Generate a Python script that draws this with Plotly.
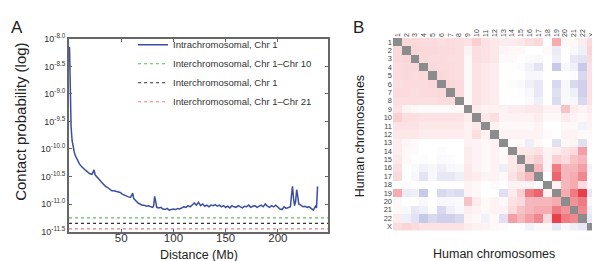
import plotly.graph_objects as go

# ---------------- Panel A data ----------------
distance_mb = [0.5, 1, 1.5, 2, 3, 4, 5, 6, 8, 10, 12, 14, 16, 18, 20, 22, 23, 24, 25, 27,
               29, 31, 33, 35, 37, 39, 41, 43, 45, 47, 49, 51, 53, 55, 57, 59, 60, 61, 62, 64,
               66, 68, 70, 72, 74, 76, 78, 80, 81, 82, 83, 84, 86, 88, 90, 92, 94, 96, 98, 100,
               102, 104, 106, 108, 110, 112, 114, 116, 118, 120, 122, 124, 126, 128, 130, 132, 134, 136, 138, 140,
               142, 144, 146, 148, 150, 152, 154, 156, 158, 160, 162, 164, 166, 168, 170, 172, 174, 176, 178, 180,
               182, 184, 186, 188, 190, 192, 194, 196, 198, 200, 202, 204, 206, 208, 210, 212, 213, 214, 215, 216,
               217, 218, 219, 220, 222, 224, 226, 228, 230, 232, 234, 236, 237, 238]
intra_log10 = [-8.15, -8.9, -9.35, -9.6, -9.85, -9.98, -10.05, -10.12, -10.2, -10.27, -10.32, -10.36, -10.39, -10.42, -10.45, -10.46, -10.40, -10.38, -10.47, -10.52,
               -10.56, -10.6, -10.64, -10.68, -10.7, -10.73, -10.76, -10.76, -10.77, -10.78, -10.79, -10.82, -10.84, -10.85, -10.87, -10.88, -10.84, -10.80, -10.9, -10.95,
               -10.98, -11.0, -11.02, -11.02, -11.04, -11.03, -11.05, -11.06, -11.04, -10.86, -10.95, -11.06, -11.07, -11.06, -11.09, -11.1, -11.08, -11.11, -11.1, -11.09,
               -11.1, -11.08, -11.09, -11.07, -11.05, -11.06, -11.03, -11.05, -11.02, -10.98, -11.02, -10.97, -11.03, -11.0, -11.04, -11.02, -11.05, -11.02, -11.03, -11.01,
               -11.04, -11.02, -11.05, -11.03, -11.06, -11.04, -11.07, -11.03, -11.05, -11.06, -11.03, -11.05, -11.07, -11.04, -11.05, -11.02, -11.06, -11.04, -11.03, -11.06,
               -11.04, -11.02, -11.05, -11.0, -11.04, -11.06, -11.03, -11.05, -11.02, -11.06, -11.09, -11.1, -11.05, -11.08, -11.06, -11.05, -10.85, -10.68, -10.9, -11.03,
               -10.95, -10.74, -10.85, -11.0, -11.02, -11.05, -11.04, -11.06, -11.05, -11.08, -11.11, -11.04, -11.07, -10.68]
intra_label = "Intrachromosomal, Chr 1"
inter_labels = ["Interchromosomal, Chr 1\u2013Chr 10", "Interchromosomal, Chr 1", "Interchromosomal, Chr 1\u2013Chr 21"]
inter_log10 = [-11.25, -11.35, -11.45]
inter_colors = ["#62b862", "#333333", "#e98080"]
x_limits = [0, 248]
y_tick_exponents = [-8.0, -8.5, -9.0, -9.5, -10.0, -10.5, -11.0, -11.5]
x_tick_values = [50, 100, 150, 200]

# ---------------- Panel B data ----------------
chromosomes = [str(i) for i in range(1, 23)] + ["X"]
# upper triangle: row i holds values for columns i+1 .. X
upper_rows = [
    [0.16, 0.16, 0.15, 0.15, 0.14, 0.15, 0.14, 0.12, 0.20, 0.12, 0.10, 0.08, 0.08, 0.10, 0.14, 0.16, 0.00, 0.35, 0.03, 0.03, 0.08, 0.15],
    [0.17, 0.16, 0.16, 0.15, 0.15, 0.14, 0.05, 0.14, 0.12, 0.10, 0.04, 0.03, 0.03, 0.00, 0.00, 0.02, -0.12, 0.00, -0.05, -0.10, 0.18],
    [0.16, 0.15, 0.15, 0.14, 0.14, 0.03, 0.13, 0.12, 0.10, 0.02, 0.02, 0.00, -0.03, -0.05, 0.00, -0.10, 0.00, -0.15, -0.18, 0.15],
    [0.16, 0.15, 0.15, 0.14, 0.02, 0.12, 0.10, 0.08, 0.00, 0.00, -0.02, -0.08, -0.18, 0.00, -0.35, -0.05, -0.10, -0.35, 0.12],
    [0.16, 0.15, 0.14, 0.02, 0.12, 0.10, 0.08, 0.00, 0.00, 0.00, -0.05, -0.05, 0.00, 0.00, 0.00, -0.02, -0.25, 0.12],
    [0.16, 0.15, 0.02, 0.12, 0.10, 0.08, 0.00, -0.02, -0.03, -0.10, -0.15, 0.00, -0.25, -0.05, -0.25, -0.30, 0.12],
    [0.15, 0.02, 0.12, 0.10, 0.08, 0.00, 0.00, -0.02, -0.05, -0.15, 0.00, -0.20, -0.05, -0.10, -0.30, 0.12],
    [0.03, 0.12, 0.10, 0.08, 0.00, 0.00, 0.00, -0.03, -0.10, 0.00, -0.22, -0.03, -0.05, -0.25, 0.12],
    [0.08, 0.06, 0.06, 0.06, 0.08, 0.08, 0.10, 0.10, 0.05, 0.05, 0.25, 0.08, 0.05, 0.08],
    [0.10, 0.14, 0.05, 0.05, 0.05, 0.05, 0.08, 0.03, 0.03, 0.08, 0.05, 0.03, 0.06],
    [0.06, 0.03, 0.03, 0.03, 0.03, 0.05, 0.00, 0.00, 0.03, 0.03, -0.08, 0.05],
    [0.05, 0.05, 0.05, 0.05, 0.05, 0.02, 0.00, 0.05, 0.05, 0.03, 0.03],
    [0.02, 0.03, -0.10, 0.03, 0.00, -0.20, 0.03, 0.05, -0.20, 0.02],
    [0.10, 0.10, 0.12, 0.05, 0.08, 0.12, 0.15, 0.40, 0.00],
    [0.15, 0.20, 0.05, 0.20, 0.15, 0.25, 0.30, 0.00],
    [0.30, 0.05, 0.55, 0.30, 0.30, 0.40, -0.08],
    [0.00, 0.65, 0.30, 0.35, 0.50, -0.03],
    [0.05, 0.30, 0.35, 0.15, 0.03],
    [0.35, 0.55, 0.80, -0.15],
    [0.45, 0.55, -0.05],
    [0.50, -0.10],
    [-0.15],
]

n = len(chromosomes)
z = [[None] * n for _ in range(n)]
for i, row in enumerate(upper_rows):
    for k, v in enumerate(row):
        j = i + 1 + k
        z[i][j] = v
        z[j][i] = v
diag_z = [[1 if i == j else None for j in range(n)] for i in range(n)]

W, H = 600, 261
def px(x):
    return x / W
def py(y):
    return 1 - y / H

FONT = "Arial, Liberation Sans, Helvetica, sans-serif"

fig = go.Figure()

fig.add_trace(go.Scatter(
    x=distance_mb, y=[10 ** v for v in intra_log10], mode="lines",
    line=dict(color="#3b4ea3", width=1.5), name=intra_label,
    xaxis="x", yaxis="y"))
for lab, lv, col in zip(inter_labels, inter_log10, inter_colors):
    fig.add_trace(go.Scatter(
        x=x_limits, y=[10 ** lv, 10 ** lv], mode="lines",
        line=dict(color=col, width=1.2, dash="dot"), name=lab,
        xaxis="x", yaxis="y"))

fig.add_trace(go.Heatmap(
    x=chromosomes, y=chromosomes, z=z, zmin=-1, zmax=1,
    colorscale=[[0, "rgb(98,98,189)"], [0.5, "rgb(255,255,255)"], [1, "rgb(226,16,30)"]],
    showscale=False, showlegend=False, xaxis="x2", yaxis="y2", hoverongaps=False))
fig.add_trace(go.Heatmap(
    x=chromosomes, y=chromosomes, z=diag_z, zmin=0, zmax=1,
    colorscale=[[0, "#8c8c8c"], [1, "#8c8c8c"]],
    showscale=False, showlegend=False, xaxis="x2", yaxis="y2", hoverongaps=False))

def ann(text, x, y, size, angle=0):
    return dict(text=text, x=px(x), y=py(y), xref="paper", yref="paper", showarrow=False,
                xanchor="center", yanchor="middle", textangle=angle,
                font=dict(size=size, color="#222"))

fig.update_layout(
    width=W, height=H,
    margin=dict(l=0, r=0, t=0, b=0),
    paper_bgcolor="white", plot_bgcolor="white",
    font=dict(family=FONT, color="#333"),
    showlegend=True,
    legend=dict(x=px(125), y=py(16), xanchor="left", yanchor="top",
                bgcolor="rgba(0,0,0,0)", font=dict(size=9.5, color="#333"),
                tracegroupgap=0, itemwidth=30, borderwidth=0),
    xaxis=dict(domain=[px(61), px(320)], range=x_limits, tickvals=x_tick_values,
               ticks="inside", ticklen=3, tickcolor="#666", showline=True, linecolor="#666",
               linewidth=2, mirror="ticks", showgrid=False, zeroline=False,
               tickfont=dict(size=11.5, color="#333"), ticklabelstandoff=-5, anchor="y"),
    yaxis=dict(domain=[py(227), py(25)], type="log", range=[-11.5, -8.0],
               tickvals=[10 ** e for e in y_tick_exponents],
               ticktext=["10<sup>%.1f</sup>" % e for e in y_tick_exponents],
               ticks="inside", ticklen=3, tickcolor="#666", showline=True, linecolor="#666",
               linewidth=2, mirror="ticks", showgrid=False, zeroline=False,
               tickfont=dict(size=9, color="#333"), anchor="x"),
    xaxis2=dict(domain=[px(385), px(588)], side="top", tickangle=-90, anchor="y2",
                showgrid=False, zeroline=False, showline=False, ticks="",
                tickmode="array", tickvals=chromosomes, ticktext=chromosomes,
                tickfont=dict(size=7, color="#444"), type="category"),
    yaxis2=dict(domain=[py(226), py(24)], autorange="reversed", anchor="x2",
                showgrid=False, zeroline=False, showline=False, ticks="",
                tickmode="array", tickvals=chromosomes, ticktext=chromosomes,
                tickfont=dict(size=7.5, color="#444"), type="category"),
    annotations=[
        ann("A", 9, 13, 17),
        ann("B", 350, 13, 17),
        ann("Contact probability (log)", 13, 112, 15, -90),
        ann("Distance (Mb)", 191, 252, 12.5),
        ann("Human chromosomes", 352, 127, 12.5, -90),
        ann("Human chromosomes", 486, 251, 12.5),
    ],
)

fig.write_html("out.html")
